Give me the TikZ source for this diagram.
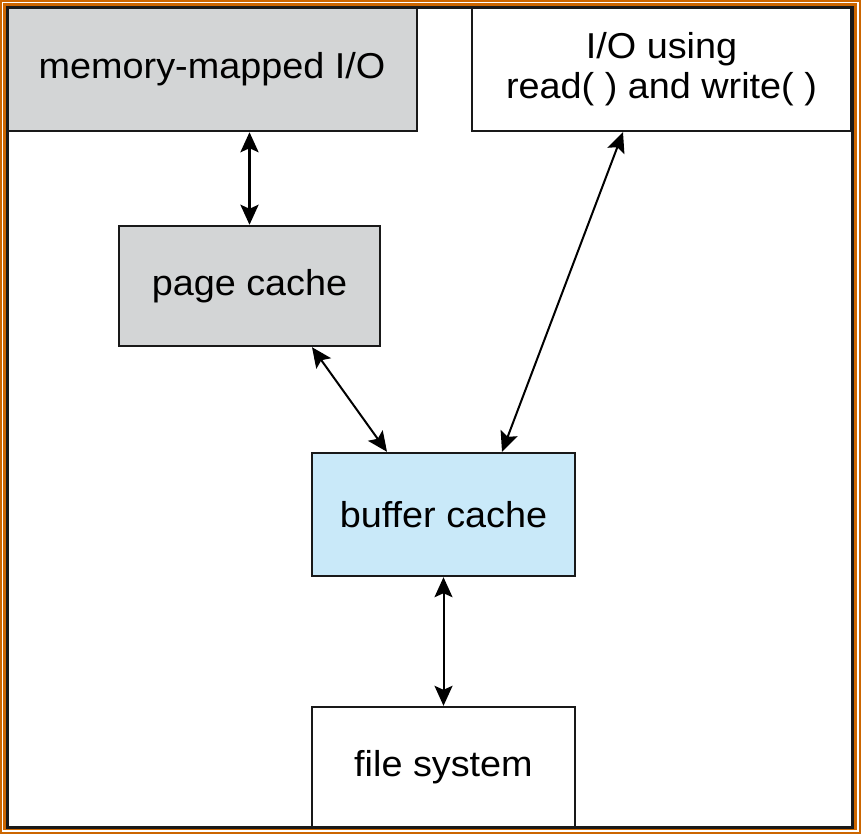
\documentclass[tikz,border=0pt]{standalone}
\usepackage{fontspec}
\setmainfont{Liberation Sans}[FakeStretch=1.05]
\usetikzlibrary{positioning, calc, arrows.meta}
\definecolor{framebrown}{HTML}{CC6600}
\definecolor{cachegrey}{HTML}{D3D5D6}
\definecolor{bufferblue}{HTML}{C9E9F9}

\begin{document}
\begin{tikzpicture}[x=1pt, y=-1pt,
				layer/.style={draw=black!90, line width=2.4pt, inner sep=0pt, align=center,
					font=\fontsize{36}{40}\selectfont},
				greylayer/.style={layer, fill=cachegrey},
				bluelayer/.style={layer, fill=bufferblue},
				link/.style={{Stealth[length=20pt, width=18pt, inset=4pt]}-{Stealth[length=20pt, width=18pt, inset=4pt]}, line width=2pt},
				biglink/.style={link, line width=3pt}]
				\useasboundingbox (0,0) rectangle (861,834);
				
				\node[greylayer, minimum width=410pt, minimum height=123pt] (mmio) at (212,69.5) {memory-mapped I/O};
				\node[layer, minimum width=379pt, minimum height=123pt] (rw) at (661.5,69.5) {I/O using\\read( ) and write( )};
				\node[greylayer, minimum width=261pt, minimum height=120pt] (page) at (249.5,286) {page cache};
				\node[bluelayer, minimum width=263pt, minimum height=123pt] (buffer) at (443.5,514.5) {buffer cache};
				\node[layer, minimum width=263pt, minimum height=120pt] (fs) at (443.5,767) {file system};
				
				%Ligações entre as camadas:
				\draw[biglink] (page.north |- mmio.south) -- (page.north);
				\draw[link] ([xshift=62.5pt]page.south) -- ([xshift=-56.5pt]buffer.north);
				\draw[link] ([xshift=-38.5pt]rw.south) -- ([xshift=58.5pt]buffer.north);
				\draw[link] (buffer.south) -- (fs.north);
				
				%Moldura:
				\draw[framebrown, line width=2.4pt] (1.2,1.2) rectangle (859.8,832.8);
				\draw[framebrown, line width=2.4pt] (4.6,4.6) rectangle (855.4,829.2);
				\draw[black!90, line width=3pt] (7.4,7.4) rectangle (852,827);
			\end{tikzpicture}
\end{document}
